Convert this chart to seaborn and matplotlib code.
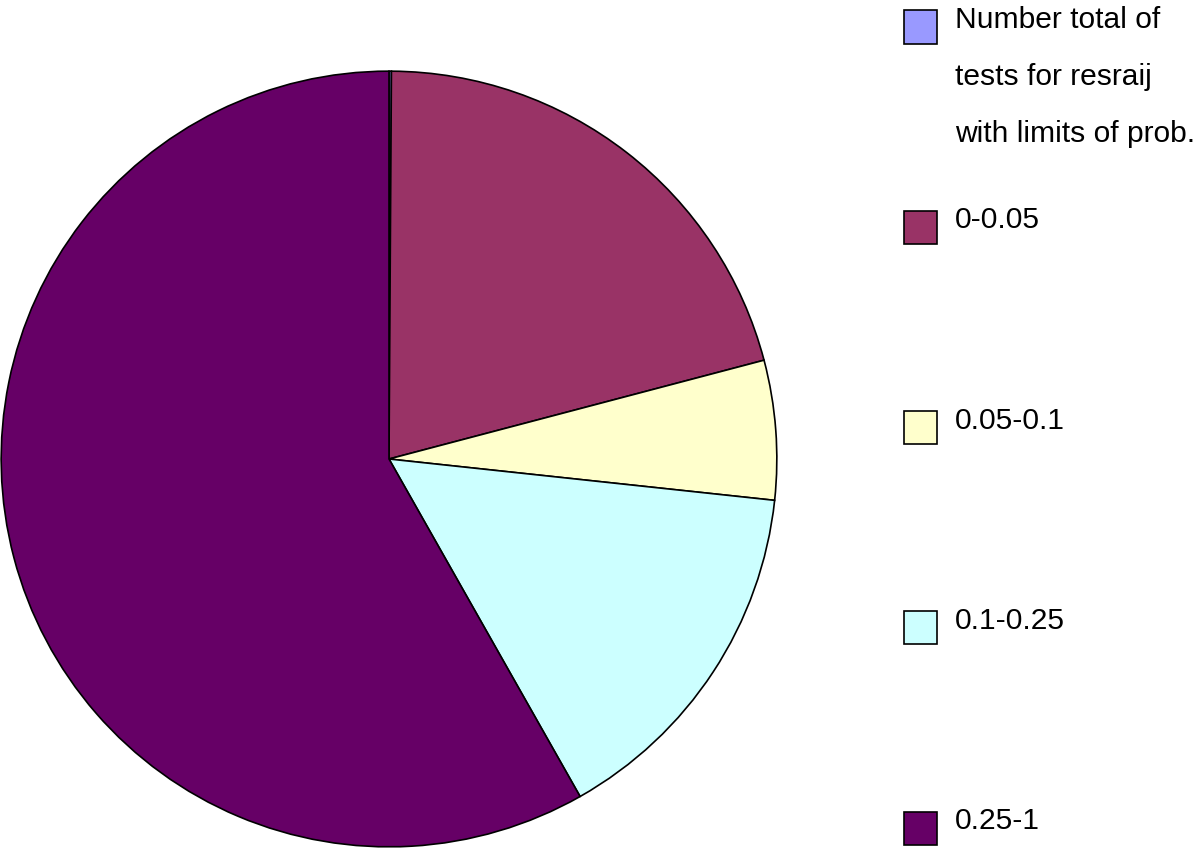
import matplotlib
matplotlib.use("Agg")
import matplotlib.pyplot as plt
from matplotlib.patches import Rectangle
import seaborn as sns

categories = ["Number total of\ntests for resraij\nwith limits of prob.",
              "0-0.05", "0.05-0.1", "0.1-0.25", "0.25-1"]
values = [0.1, 20.8, 5.8, 15.1, 58.2]
colors = ["#9999FF", "#993366", "#FFFFCC", "#CCFFFF", "#660066"]

sns.set_theme(style="white")
plt.rcParams['font.family'] = ['Liberation Sans', 'DejaVu Sans']

W, H = 1200, 851
fig = plt.figure(figsize=(W / 100, H / 100), dpi=100)
fig.patch.set_facecolor("white")

# pie axes: center (389, 459) px, radius 389 px
cx, cy, r = 389, 459, 389
ax = fig.add_axes([(cx - r) / W, (H - cy - r) / H, 2 * r / W, 2 * r / H])
ax.pie(values, colors=colors, startangle=90, counterclock=False, radius=1,
       wedgeprops=dict(edgecolor="black", linewidth=1.2))
ax.set_xlim(-1.003, 1.003)
ax.set_ylim(-1.003, 1.003)
ax.set_aspect("equal")
ax.axis("off")

# legend drawn on the figure
sq = 33
for i, (lab, col) in enumerate(zip(categories, colors)):
    ycen = 27 + 200.3 * i
    fig.add_artist(Rectangle((904 / W, (H - ycen - sq / 2) / H), sq / W, sq / H,
                             facecolor=col, edgecolor="black", linewidth=1.2,
                             transform=fig.transFigure))
    for j, line in enumerate(lab.split("\n")):
        fig.text(955 / W, (H - ycen - 1 - 57 * j) / H, line, fontsize=21.6,
                 color="black", ha="left", va="baseline")

fig.savefig("out.png", dpi=100, facecolor="white")
